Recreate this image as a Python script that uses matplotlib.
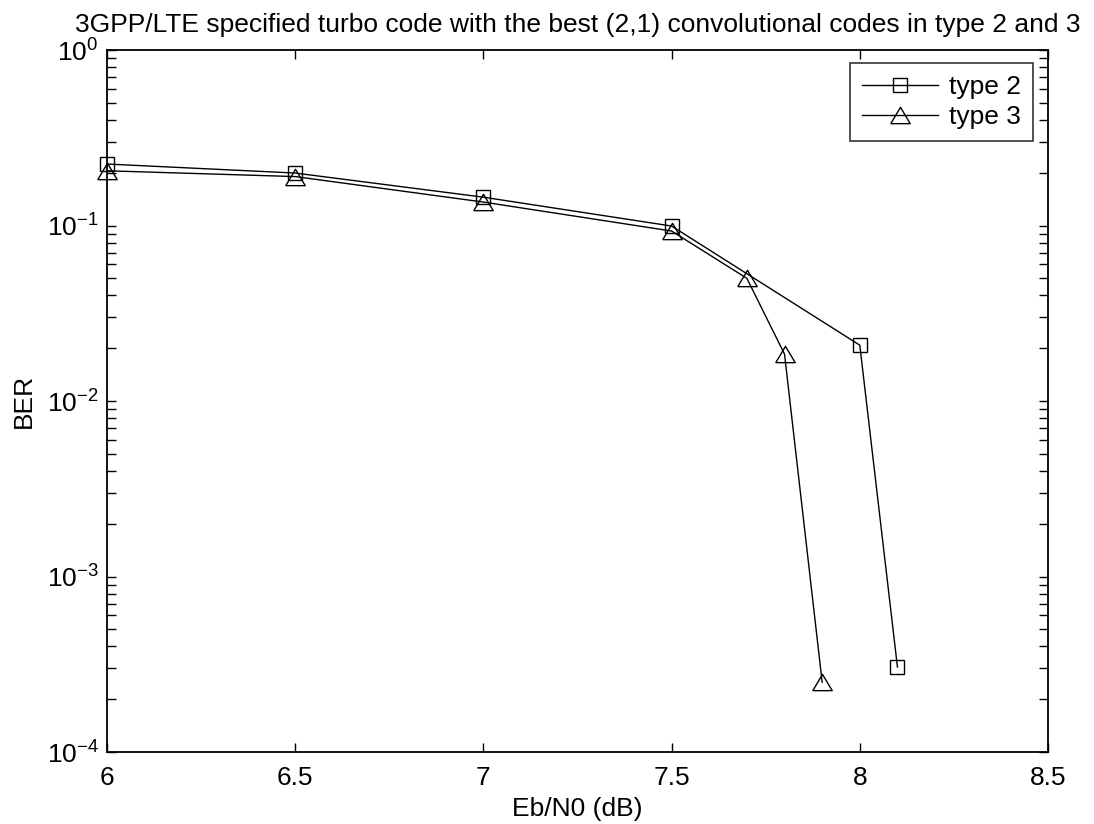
import matplotlib
matplotlib.use("Agg")
import matplotlib.pyplot as plt
from matplotlib.ticker import LogLocator, FixedLocator, NullLocator

plt.rcParams['font.family'] = ['Liberation Sans', 'DejaVu Sans']
plt.rcParams['mathtext.fontset'] = 'custom'
plt.rcParams['mathtext.rm'] = 'Liberation Sans'
plt.rcParams['mathtext.it'] = 'Liberation Sans'

# Eb/N0 (dB) and BER for each interleaver type
ebn0_type2 = [6.0, 6.5, 7.0, 7.5, 8.0, 8.1]
ber_type2 = [0.224, 0.199, 0.145, 0.0993, 0.0208, 3.05e-4]

ebn0_type3 = [6.0, 6.5, 7.0, 7.5, 7.7, 7.8, 7.9]
ber_type3 = [0.205, 0.190, 0.136, 0.093, 0.050, 0.0185, 2.5e-4]

series_labels = ['type 2', 'type 3']
x_ticks = [6, 6.5, 7, 7.5, 8, 8.5]
x_tick_labels = ['6', '6.5', '7', '7.5', '8', '8.5']

title_text = '3GPP/LTE specified turbo code with the best (2,1) convolutional codes in type 2 and 3'

fs = 19
W, H = 1094, 824
fig = plt.figure(figsize=(W / 100, H / 100), dpi=100)
ax = fig.add_axes([107 / W, 72 / H, 941 / W, 702 / H])

tri = [(-1, -0.84), (1, -0.84), (0, 0.84), (-1, -0.84)]
ax.plot(ebn0_type2, ber_type2, color='black', lw=1.0, marker='s', ms=9.5,
        mfc='none', mec='black', mew=1.0, label=series_labels[0], clip_on=False)
ax.plot(ebn0_type3, ber_type3, color='black', lw=1.0, marker=tri, ms=14,
        mfc='none', mec='black', mew=1.0, label=series_labels[1], clip_on=False)

ax.set_yscale('log')
ax.set_xlim(6, 8.5)
ax.set_ylim(1e-4, 1)
ax.xaxis.set_major_locator(FixedLocator(x_ticks))
ax.set_xticklabels(x_tick_labels)
ax.xaxis.set_minor_locator(NullLocator())
ax.yaxis.set_major_locator(LogLocator(base=10, numticks=10))
ax.yaxis.set_minor_locator(LogLocator(base=10, subs=range(2, 10), numticks=20))

for s in ax.spines.values():
    s.set_linewidth(1.3)
ax.tick_params(which='both', direction='in', top=True, right=True,
               length=6.5, width=1.0, labelsize=fs)
ax.tick_params(axis='x', pad=10)
ax.tick_params(axis='y', pad=6)

ax.set_xlabel('Eb/N0 (dB)', fontsize=fs, labelpad=5)
ax.set_ylabel('BER', fontsize=fs, labelpad=8)
ax.set_title(title_text, fontsize=fs, pad=13)

# legend box anchored just inside the upper-right corner of the axes
leg = ax.legend(loc='upper right', bbox_to_anchor=(1033 / W, (H - 63) / H),
                bbox_transform=fig.transFigure, borderaxespad=0,
                fontsize=fs, frameon=True, fancybox=False,
                edgecolor='black', handlelength=2.9, handletextpad=0.42,
                borderpad=0.45, labelspacing=0.25)
leg.get_frame().set_linewidth(1.2)

fig.savefig('out.png', dpi=100, facecolor='white')
